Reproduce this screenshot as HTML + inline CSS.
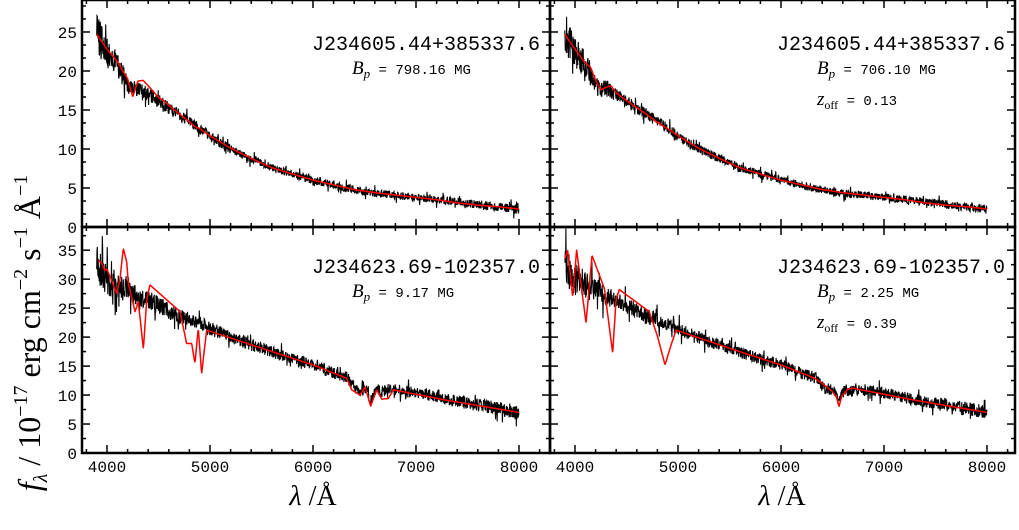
<!DOCTYPE html>
<html><head><meta charset="utf-8"><style>
html,body{margin:0;padding:0;background:#fff;}
svg{display:block;}
.tk{font-family:"Liberation Mono",monospace;font-size:16px;fill:#000;}
.ttl{font-family:"Liberation Mono",monospace;font-size:20px;fill:#000;}
.par{font-family:"Liberation Mono",monospace;font-size:14px;fill:#000;}
.ser{font-family:"Liberation Serif",serif;fill:#000;}
</style></head><body>
<svg id="fig" width="1019" height="530" viewBox="0 0 1019 530">
<g id="plots"></g>
<text class="ser" font-size="32" transform="translate(40,333) rotate(-90)" text-anchor="middle"><tspan font-style="italic">f</tspan><tspan font-size="20" dy="7" font-style="italic">λ</tspan><tspan dy="-7"> / 10</tspan><tspan font-size="20" dy="-13">−17</tspan><tspan dy="13"> erg cm</tspan><tspan font-size="20" dy="-13">−2</tspan><tspan dy="13"> s</tspan><tspan font-size="20" dy="-13">−1</tspan><tspan dy="13"> Å</tspan><tspan font-size="20" dy="-13">−1</tspan></text>
<text class="ser" font-size="28" x="313" y="505" text-anchor="middle"><tspan font-style="italic">λ</tspan> /Å</text>
<text class="ser" font-size="28" x="782" y="505" text-anchor="middle"><tspan font-style="italic">λ</tspan> /Å</text>
</svg>
<script>
// observed spectra (continuum level) on a common grid
const wave = [3900,3950,4000,4050,4100,4150,4200,4250,4300,4350,4400,4500,4600,4700,4800,4850,4900,4950,5000,5200,5400,5600,5800,6000,6200,6330,6400,6460,6505,6560,6620,6670,6730,6780,7000,7300,7600,8000,8280];
const obsTop = [25,23.5,22.5,21.5,21,19.5,18.2,17.6,17.8,17.3,17.0,16.2,15.2,14.4,13.5,13.1,12.6,12.2,11.6,10.0,8.8,7.6,6.8,6.0,5.4,5.0,4.8,4.6,4.5,4.4,4.3,4.25,4.2,4.1,3.8,3.4,2.9,2.3,2.0];
const obsBot = [33,31,30,29.5,29,28.5,28.5,27.5,27,26.5,26.5,25.5,24.5,23.5,23,22.5,22.3,22,21.5,20.0,18.7,17.4,16.2,15.2,13.8,13.0,11.5,10.5,11.3,9.0,11.0,10.5,11.0,11.0,10.4,9.2,8.3,7.0,6.6];
const noiseTop = [2.6,2.3,2.0,1.8,1.6,1.4,1.2,1.1,1.0,0.95,0.9,0.85,0.8,0.75,0.7,0.7,0.7,0.65,0.65,0.6,0.55,0.5,0.5,0.5,0.5,0.5,0.5,0.5,0.5,0.5,0.5,0.5,0.5,0.5,0.5,0.5,0.55,0.6,0.6];
const noiseBot = [3.2,3.0,2.8,2.6,2.4,2.2,2.0,1.9,1.8,1.7,1.6,1.5,1.4,1.3,1.3,1.3,1.2,1.2,1.2,1.1,1.1,1.0,1.0,1.0,1.0,1.0,1.0,1.0,1.0,1.0,1.0,1.0,1.0,1.0,1.0,1.0,1.1,1.3,1.3];
// model spectra, each on its own wavelength grid
const wTL = [3900,4000,4100,4200,4250,4300,4350,4400,4500,4550,4600,4700,4800,4850,4900,5000,5200,5400,5600,5800,6000,6200,6400,6600,6800,7000,7200,7400,7600,7800,8000];
const fTL = [24.7,22.8,21.2,19.0,16.7,18.7,18.8,18.1,16.6,16.2,15.6,14.5,13.5,12.9,12.6,11.7,10.1,8.8,7.6,6.8,6.0,5.4,4.8,4.4,4.1,3.8,3.5,3.1,2.8,2.6,2.3];
const wTR = [3900,4000,4100,4150,4200,4250,4300,4350,4400,4500,4600,4700,4800,4900,5000,5200,5400,5600,5800,6000,6200,6400,6600,6800,7000,7200,7400,7600,7800,8000];
const fTR = [24.7,22.8,21.0,20.5,18.8,17.6,17.9,18.1,17.2,16.2,15.3,14.4,13.4,12.6,11.7,10.1,8.8,7.6,6.8,6.0,5.4,4.8,4.4,4.1,3.8,3.5,3.1,2.8,2.6,2.3];
const wBL = [3916,3949,3980,3997,4045,4094,4126,4158,4191,4207,4272,4304,4353,4386,4417,4709,4773,4822,4854,4886,4919,4967,5550,6000,6327,6376,6456,6505,6560,6618,6667,6731,6780,7298,8000];
const fBL = [33.3,32.7,31.5,31.8,29.8,27.5,30,35.3,33,29.3,24.4,26.1,18,26.4,29,24.4,18.9,18.9,15.5,21.5,13.7,21.2,17.8,15.2,12.9,10.9,10.0,11.4,8.1,10.9,9.3,9.4,10.9,9.1,7.0];
const wBR = [3900,3929,3978,4016,4107,4165,4285,4366,4398,4430,4721,4803,4874,4932,4981,5563,6000,6327,6400,6500,6540,6563,6590,6650,6700,6780,7300,8000];
const fBR = [33.5,35,26.9,35,22.4,34.1,28.4,17.2,26.4,28.2,24.4,20,15.2,18.6,21.2,17.7,15.2,12.9,12.0,10.6,9.6,8.0,9.8,11.0,11.2,10.9,9.1,7.0];
const xTicks = [4000,5000,6000,7000,8000];
const yTicksTop = [0,5,10,15,20,25];
const yTicksBot = [0,5,10,15,20,25,30,35];
const titles = ["J234605.44+385337.6","J234605.44+385337.6","J234623.69-102357.0","J234623.69-102357.0"];
const bValues = ["798.16","706.10","9.17","2.25"];
const zValues = [null,"0.13",null,"0.39"];

const NS="http://www.w3.org/2000/svg";
const root=document.getElementById('plots');
function mk(tag,attrs,parent){const e=document.createElementNS(NS,tag);for(const k in attrs)e.setAttribute(k,attrs[k]);(parent||root).appendChild(e);return e;}
function interp(xs,ys,x){if(x<=xs[0])return ys[0];for(let i=0;i<xs.length-1;i++){if(x>=xs[i]&&x<=xs[i+1]){const t=(x-xs[i])/(xs[i+1]-xs[i]);return ys[i]+t*(ys[i+1]-ys[i]);}}return ys[ys.length-1];}
function hsh(k,s){let h=(k*374761393+s*668265263)|0;h=(h^(h>>>13))*1274126177|0;h=h^(h>>>16);return ((h>>>0)%10000)/10000*2-1;}

const panels=[
 {x0:82,x1:550,y0:0,y1:227,ymax:29.1,yt:yTicksTop,minor:5/3,obs:obsTop,mw:wTL,mf:fTL,noise:noiseTop,labels:true,i:0,ty:50},
 {x0:550,x1:1015,y0:0,y1:227,ymax:29.1,yt:yTicksTop,minor:5/3,obs:obsTop,mw:wTR,mf:fTR,noise:noiseTop,labels:false,i:1,ty:50},
 {x0:82,x1:550,y0:227,y1:453,ymax:39,yt:yTicksBot,minor:2.5,obs:obsBot,mw:wBL,mf:fBL,noise:noiseBot,labels:true,i:2,ty:273},
 {x0:550,x1:1015,y0:227,y1:453,ymax:39,yt:yTicksBot,minor:2.5,obs:obsBot,mw:wBR,mf:fBR,noise:noiseBot,labels:false,i:3,ty:273}
];
panels.forEach(p=>{
  const x4000=p.x0+25, sc=0.103;
  const X=l=>x4000+(l-4000)*sc;
  const Y=v=>p.y1-(v/p.ymax)*(p.y1-p.y0);
  const g=mk('g',{});
  
  
  const clip=mk('clipPath',{id:'c'+p.i},g);mk('rect',{x:p.x0,y:p.y0,width:p.x1-p.x0,height:p.y1-p.y0},clip);
  let d='';let k=0;
  for(let l=wave[0];l<=8000;l+=3,k++){
    const v=interp(wave,p.obs,l), a=interp(wave,p.noise,l);
    let r=hsh(k,p.i+1); if(Math.abs(hsh(k,p.i+11))>0.93) r*=2.2;
    const yy=v+a*r;
    d+=(k?'L':'M')+X(l).toFixed(1)+' '+Y(yy).toFixed(1);
  }
  const ob=mk('path',{d:d,fill:'none',stroke:'#000','stroke-width':1.1,'clip-path':'url(#c'+p.i+')'},g);
  
  
  let dm='';
  for(let l=p.mw[0];l<=8000;l+=4){dm+=(l===p.mw[0]?'M':'L')+X(l).toFixed(1)+' '+Y(interp(p.mw,p.mf,l)).toFixed(1);}
  const mo=mk('path',{d:dm,fill:'none',stroke:'#f00','stroke-width':1.5,'stroke-linejoin':'round','clip-path':'url(#c'+p.i+')'},g);
  
  
  mk('rect',{x:p.x0,y:p.y0,width:p.x1-p.x0,height:p.y1-p.y0,fill:'none',stroke:'#000','stroke-width':2.5},g);
  for(let l=3800;l<=8200;l+=200){
    const x=X(l);if(x<p.x0||x>p.x1)continue;
    const maj=l%1000===0, L=maj?8:4;
    mk('line',{x1:x,x2:x,y1:p.y1,y2:p.y1-L,stroke:'#000','stroke-width':1.5},g);
    mk('line',{x1:x,x2:x,y1:p.y0,y2:p.y0+L,stroke:'#000','stroke-width':1.5},g);
  }
  if(p.i>=2) xTicks.forEach(l=>{const t=mk('text',{x:X(l),y:472,'text-anchor':'middle',class:'tk'},g);t.textContent=l;
    });
  for(let v=0;v<=p.ymax;v+=p.minor){
    const maj=Math.abs(v/5-Math.round(v/5))<1e-6, L=maj?8:4, y=Y(v);
    mk('line',{x1:p.x0,x2:p.x0+L,y1:y,y2:y,stroke:'#000','stroke-width':1.5},g);
    mk('line',{x1:p.x1,x2:p.x1-L,y1:y,y2:y,stroke:'#000','stroke-width':1.5},g);
  }
  if(p.labels) p.yt.forEach(v=>{const t=mk('text',{x:p.x0-5,y:Y(v)+6,'text-anchor':'end',class:'tk'},g);t.textContent=v;
    });
  const tt=mk('text',{x:p.x1-10,y:p.ty,'text-anchor':'end',class:'ttl'},g);tt.textContent=titles[p.i];
  
  const bx=p.x1-198;
  const bt=mk('text',{x:bx,y:p.ty+24,class:'par'},g);
  bt.innerHTML='<tspan font-family="Liberation Serif,serif" font-style="italic" font-size="19">B</tspan><tspan font-family="Liberation Serif,serif" font-style="italic" font-size="13" dy="4">p</tspan><tspan dy="-4"> = '+bValues[p.i]+' MG</tspan>';
  
  if(zValues[p.i]){const zt=mk('text',{x:bx,y:p.ty+55,class:'par'},g);
    zt.innerHTML='<tspan font-family="Liberation Serif,serif" font-style="italic" font-size="19">z</tspan><tspan font-family="Liberation Serif,serif" font-size="12" dy="4">off</tspan><tspan dy="-4"> = '+zValues[p.i]+'</tspan>';
    }
});
</script>
</body></html>
